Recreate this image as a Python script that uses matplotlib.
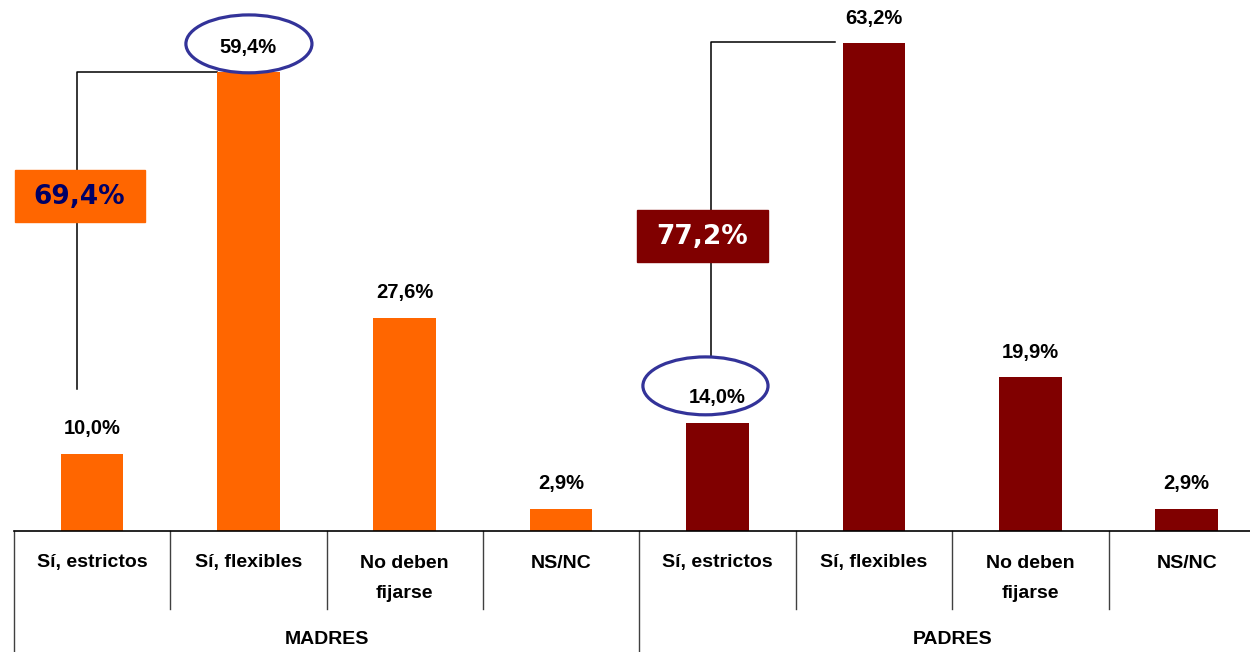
import matplotlib
matplotlib.use("Agg")
import matplotlib.pyplot as plt
from matplotlib.patches import Ellipse, Rectangle
from matplotlib.transforms import blended_transform_factory

# ---- data ----
categories = ["Sí, estrictos", "Sí, flexibles", "No deben\nfijarse", "NS/NC"]
groups = ["MADRES", "PADRES"]
madres = [10.0, 59.4, 27.6, 2.9]
padres = [14.0, 63.2, 19.9, 2.9]
colors = ["#FF6600", "#800000"]

def fmt(v):
    return f"{v:.1f}".replace(".", ",") + "%"

fig = plt.figure(figsize=(12.5, 6.52), dpi=100)
W, H = 1250, 652
base_px = 531
left_px = 13.7
unit_px = 156.4
ax = fig.add_axes([left_px / W, (H - base_px) / H, 8 * unit_px / W, base_px / H])
ax.set_xlim(-0.5, 7.5)
ax.set_ylim(0, base_px / 7.72)
ax.axis("off")
ax.plot([-0.5, 7.5], [0, 0], color="black", lw=1.2, clip_on=False, zorder=5)

lab_font = dict(family="Liberation Sans", weight="bold")
values = madres + padres
xs = list(range(8))
bar_colors = [colors[0]] * 4 + [colors[1]] * 4
ax.bar(xs, values, width=0.40, color=bar_colors, zorder=3)
for x, v in zip(xs, values):
    ax.annotate(fmt(v), (x, v), xytext=(0, 18), textcoords="offset points",
                ha="center", va="center", fontsize=14.5, **lab_font)

trans = blended_transform_factory(ax.transData, ax.transAxes)
def ypx(p):
    return (base_px - p) / base_px

# category separators and labels
for i in range(9):
    xb = i - 0.5
    bottom = ypx(660) if i % 4 == 0 else ypx(609)
    ax.plot([xb, xb], [0, bottom], transform=trans, color="#404040",
            lw=1.0, clip_on=False)
all_cats = categories * 2
for x, lab in zip(xs, all_cats):
    for k, line in enumerate(lab.split("\n")):
        ax.text(x, ypx(563 + 30 * k), line, transform=trans, ha="center",
                va="center", fontsize=14, **lab_font)
for g, name in enumerate(groups):
    ax.text(g * 4 + 1.5, ypx(640), name, transform=trans, ha="center",
            va="center", fontsize=14, **lab_font)

# ---- annotations: sums of "Sí" answers ----
ell_col = "#333399"
# Madres
m_sum = madres[0] + madres[1]
lx = -0.095
ax.plot([lx, lx, 1 - 0.2], [madres[0] + 8.4, madres[1], madres[1]],
        color="black", lw=1.1, zorder=2)
ax.add_patch(Rectangle((-0.491, 40.0), 0.831, 6.8, color=colors[0], zorder=4))
ax.text(-0.083, 43.3, fmt(m_sum), ha="center", va="center", fontsize=19,
        color="#000066", family="DejaVu Sans", weight="bold", zorder=6)
ax.add_patch(Ellipse((1.004, madres[1] + 3.7), 0.806, 7.5, fill=False,
                     edgecolor=ell_col, lw=2.3, zorder=6))
# Padres
p_sum = padres[0] + padres[1]
lx = 3.959
ax.plot([lx, lx, 5 - 0.25], [padres[0] + 8.7, padres[1] + 0.1, padres[1] + 0.1],
        color="black", lw=1.1, zorder=2)
ax.add_patch(Rectangle((3.486, 34.8), 0.838, 6.8, color=colors[1], zorder=4))
ax.text(3.90, 38.1, fmt(p_sum), ha="center", va="center", fontsize=19,
        color="white", family="DejaVu Sans", weight="bold", zorder=6)
ax.add_patch(Ellipse((3.923, padres[0] + 4.8), 0.80, 7.5, fill=False,
                     edgecolor=ell_col, lw=2.3, zorder=6))

fig.savefig("out.png", dpi=100)
